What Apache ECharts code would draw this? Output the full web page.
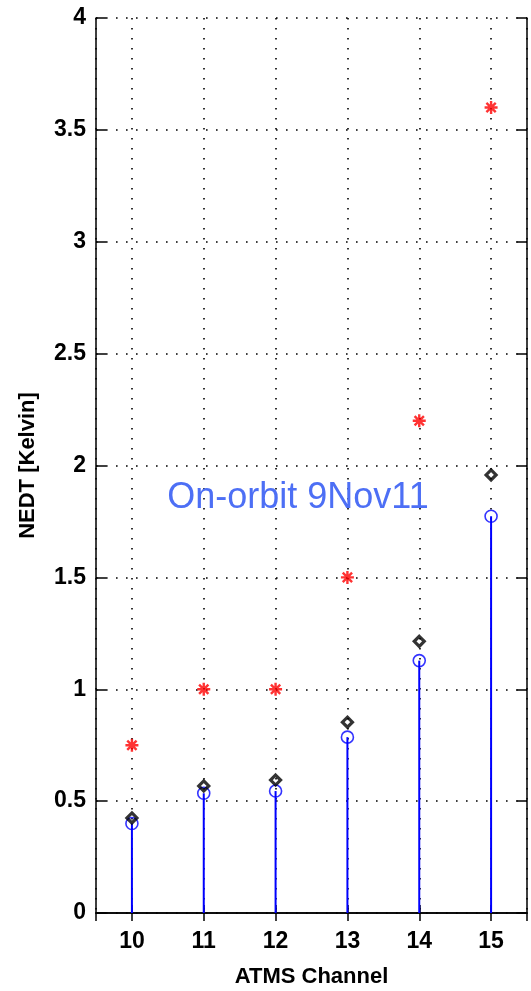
<!DOCTYPE html>
<html>
<head>
<meta charset="utf-8">
<script src="https://cdn.jsdelivr.net/npm/echarts@6/dist/echarts.min.js"></script>
<style>
  html, body { margin: 0; padding: 0; background: #fff; }
  #chart { width: 531px; height: 991px; }
</style>
</head>
<body>
<div id="chart"></div>
<script>
// ATMS channels 10-15: NEDT specification vs. measured values
var channels = [10, 11, 12, 13, 14, 15];
var specNEDT = [0.75, 1.0, 1.0, 1.5, 2.2, 3.6];          // red asterisks
var diamondNEDT = [0.425, 0.568, 0.594, 0.853, 1.214, 1.958]; // black diamonds
var orbitNEDT = [0.40, 0.535, 0.545, 0.786, 1.128, 1.773];    // blue stems
var yTicks = [0, 0.5, 1, 1.5, 2, 2.5, 3, 3.5, 4];

function pairs(vals) {
  return channels.map(function (c, i) { return [c, vals[i]]; });
}

var FONT = "'Liberation Sans', Arial, Helvetica, sans-serif";
var dotted = { color: '#000', width: 1.6, type: [1.6, 8.4] };

var chart = echarts.init(document.getElementById('chart'), null, { renderer: 'canvas' });

var asterisk = 'path://M0,-6L0,6M-6,0L6,0M-4.3,-4.3L4.3,4.3M-4.3,4.3L4.3,-4.3';

chart.setOption({
  animation: false,
  backgroundColor: '#fff',
  grid: { left: 96, top: 18, right: 4, bottom: 78, containLabel: false, outerBoundsMode: 'none' },
  xAxis: [{
    type: 'value', min: 9.5, max: 15.5, splitNumber: 6,
    position: 'bottom',
    name: 'ATMS Channel', nameLocation: 'middle', nameGap: 53,
    nameTextStyle: { color: '#000', fontFamily: FONT, fontWeight: 'bold', fontSize: 22 },
    axisLine: { show: true, lineStyle: { color: '#000', width: 1.5 } },
    axisTick: { show: true, inside: true, length: 8, lineStyle: { color: '#000', width: 1.5 } },
    axisLabel: {
      show: true, margin: 17, color: '#000', fontFamily: FONT, fontWeight: 'bold', fontSize: 23,
      showMinLabel: false, showMaxLabel: false,
      formatter: function (v) { return channels.indexOf(v) >= 0 ? String(v) : ''; }
    },
    splitLine: { show: true, lineStyle: dotted }
  }, {
    type: 'value', min: 9.5, max: 15.5, splitNumber: 6,
    position: 'top',
    axisLine: { show: true, lineStyle: { color: '#000', width: 1.5 } },
    axisTick: { show: true, inside: true, length: 8, lineStyle: { color: '#000', width: 1.5 } },
    axisLabel: { show: false },
    splitLine: { show: false }
  }],
  yAxis: [{
    type: 'value', min: 0, max: 4, interval: 0.5,
    position: 'left',
    name: 'NEDT [Kelvin]', nameLocation: 'middle', nameGap: 57, nameRotate: 90,
    nameTextStyle: { color: '#000', fontFamily: FONT, fontWeight: 'bold', fontSize: 22 },
    axisLine: { show: true, lineStyle: { color: '#000', width: 1.5 } },
    axisTick: { show: true, inside: true, length: 10, lineStyle: { color: '#000', width: 1.5 } },
    axisLabel: {
      show: true, margin: 10, color: '#000', fontFamily: FONT, fontWeight: 'bold', fontSize: 23,
      formatter: function (v) { return yTicks.indexOf(v) >= 0 ? String(v) : ''; }
    },
    splitLine: { show: true, lineStyle: dotted }
  }, {
    type: 'value', min: 0, max: 4, interval: 0.5,
    position: 'right',
    axisLine: { show: true, lineStyle: { color: '#000', width: 1.5 } },
    axisTick: { show: true, inside: true, length: 10, lineStyle: { color: '#000', width: 1.5 } },
    axisLabel: { show: false },
    splitLine: { show: false }
  }],
  series: [{
    // stems from zero up to each blue marker
    type: 'custom',
    xAxisIndex: 0, yAxisIndex: 0,
    data: pairs(orbitNEDT),
    z: 2,
    renderItem: function (params, api) {
      var p0 = api.coord([api.value(0), 0]);
      var p1 = api.coord([api.value(0), api.value(1)]);
      return {
        type: 'line',
        shape: { x1: p0[0], y1: p0[1], x2: p1[0], y2: p1[1] },
        style: { stroke: '#0000ff', lineWidth: 2 }
      };
    }
  }, {
    type: 'scatter',
    data: pairs(orbitNEDT),
    symbol: 'circle', symbolSize: 12,
    itemStyle: { color: 'rgba(0,0,0,0)', borderColor: '#0000ff', borderWidth: 1.6 },
    z: 3
  }, {
    type: 'scatter',
    data: pairs(diamondNEDT),
    symbol: 'diamond', symbolSize: 10,
    itemStyle: { color: 'rgba(0,0,0,0)', borderColor: '#000', borderWidth: 3.2 },
    z: 4
  }, {
    type: 'scatter',
    data: pairs(specNEDT),
    symbol: asterisk, symbolSize: 13,
    itemStyle: { color: 'rgba(0,0,0,0)', borderColor: '#ff0000', borderWidth: 2.4 },
    z: 5
  }],
  graphic: [{
    type: 'text',
    x: 298, y: 498,
    z: 10,
    style: {
      text: 'On-orbit 9Nov11',
      fill: '#4d6ff5',
      font: 'normal 36px ' + FONT,
      textAlign: 'center',
      textVerticalAlign: 'middle'
    }
  }]
});
</script>
</body>
</html>
